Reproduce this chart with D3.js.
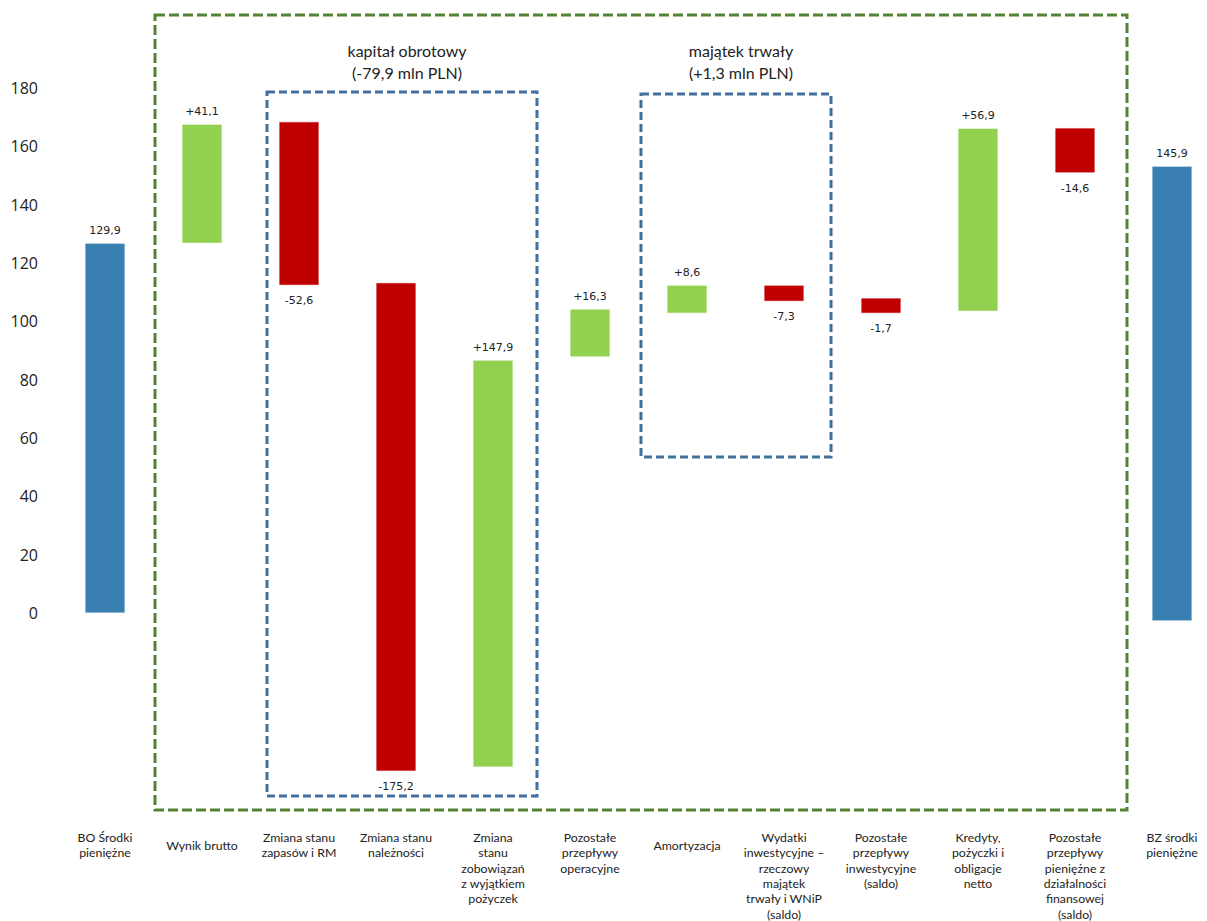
<!DOCTYPE html>
<html>
<head>
<meta charset="utf-8">
<script src="https://d3js.org/d3.v7.min.js"></script>
<style>
  body { margin: 0; background: #fff; }
  .tick text { font-family: "Open Sans", sans-serif; font-size: 16px; fill: #222; }
  .val { font-family: "DejaVu Sans", sans-serif; font-size: 11px; fill: #222; }
  .cat { font-family: Lato, sans-serif; font-size: 12.3px; fill: #222; }
  .grp { font-family: Lato, sans-serif; font-size: 16px; fill: #222; }
</style>
</head>
<body>
<div id="viz"></div>
<script>
// kategorie (linie etykiet osi X)
var categories = [
  ["BO Środki", "pieniężne"],
  ["Wynik brutto"],
  ["Zmiana stanu", "zapasów i RM"],
  ["Zmiana stanu", "należności"],
  ["Zmiana", "stanu", "zobowiązań", "z wyjątkiem", "pożyczek"],
  ["Pozostałe", "przepływy", "operacyjne"],
  ["Amortyzacja"],
  ["Wydatki", "inwestycyjne –", "rzeczowy", "majątek", "trwały i WNiP", "(saldo)"],
  ["Pozostałe", "przepływy", "inwestycyjne", "(saldo)"],
  ["Kredyty,", "pożyczki i", "obligacje", "netto"],
  ["Pozostałe", "przepływy", "pieniężne z", "działalności", "finansowej", "(saldo)"],
  ["BZ środki", "pieniężne"]
];
// poczatek i koniec slupka
var barStart = [0, 126.8, 168.4, 113.2, -52.8, 104.2, 102.8, 112.4, 108.0, 103.5, 166.3, -2.7];
var barEnd   = [126.8, 167.6, 112.4, -54.2, 86.7, 87.8, 112.4, 106.9, 102.8, 166.2, 150.9, 153.2];
var barType  = ["total", "up", "down", "down", "up", "up", "up", "down", "down", "up", "down", "total"];
var valueLabels = ["129,9", "+41,1", "-52,6", "-175,2", "+147,9", "+16,3", "+8,6", "-7,3", "-1,7", "+56,9", "-14,6", "145,9"];
var yTicks = [0, 20, 40, 60, 80, 100, 120, 140, 160, 180];
// grupy w ramkach
var groups = [
  { first: 2, last: 4, title: ["kapitał obrotowy", "(-79,9 mln PLN)"] },
  { first: 6, last: 7, title: ["majątek trwały", "(+1,3 mln PLN)"] }
];

var colors = { total: "#3a7fb2", up: "#92d050", down: "#c00000" };

var W = 1207, H = 921;
var svg = d3.select("#viz").append("svg")
  .attr("width", W).attr("height", H);

var y = d3.scaleLinear().domain([0, 180]).range([613, 88]);
var x = d3.scalePoint().domain(d3.range(categories.length)).range([105, 1172]);
var bw = 40;

// os Y - tylko etykiety
var yAxis = svg.append("g")
  .attr("transform", "translate(40,0)")
  .call(d3.axisLeft(y).tickValues(yTicks).tickSize(0).tickPadding(2));
yAxis.select(".domain").remove();
yAxis.selectAll(".tick text").attr("dy", "0.35em");

// zewnetrzna zielona ramka
svg.append("rect")
  .attr("x", x(1) - 47).attr("y", 15)
  .attr("width", (x(10) + 52) - (x(1) - 47)).attr("height", 810 - 15)
  .attr("fill", "none").attr("stroke", "#548235")
  .attr("stroke-width", 3).attr("stroke-dasharray", "10,4");

// niebieskie ramki grup
var boxY = [[92, 796], [94, 457]];
var boxPad = [[32, 44], [46, 47]];
groups.forEach(function(g, i) {
  var x0 = x(g.first) - boxPad[i][0], x1 = x(g.last) + boxPad[i][1];
  svg.append("rect")
    .attr("x", x0).attr("y", boxY[i][0])
    .attr("width", x1 - x0).attr("height", boxY[i][1] - boxY[i][0])
    .attr("fill", "none").attr("stroke", "#41719c")
    .attr("stroke-width", 3).attr("stroke-dasharray", "8,4");
  var cx = (x0 + x1) / 2 + 5;
  var t = svg.append("text").attr("class", "grp")
    .attr("text-anchor", "middle")
    .attr("x", cx).attr("y", 57);
  g.title.forEach(function(line, j) {
    t.append("tspan").attr("x", cx).attr("dy", j ? 22 : 0).text(line);
  });
});

// slupki
svg.selectAll("rect.bar")
  .data(d3.range(categories.length))
  .enter().append("rect")
  .attr("class", "bar")
  .attr("x", function(i) { return x(i) - bw / 2; })
  .attr("y", function(i) { return y(Math.max(barStart[i], barEnd[i])); })
  .attr("width", bw)
  .attr("height", function(i) { return Math.abs(y(barStart[i]) - y(barEnd[i])); })
  .attr("fill", function(i) { return colors[barType[i]]; })
  .attr("stroke", "#fff").attr("stroke-width", 0.8);

// etykiety wartosci
svg.selectAll("text.val")
  .data(d3.range(categories.length))
  .enter().append("text")
  .attr("class", "val")
  .attr("text-anchor", "middle")
  .attr("x", function(i) { return x(i); })
  .attr("y", function(i) {
    if (barType[i] == "down") return y(Math.min(barStart[i], barEnd[i])) + 19;
    return y(Math.max(barStart[i], barEnd[i])) - 9;
  })
  .text(function(i) { return valueLabels[i]; });

// etykiety kategorii
var lineH = 15.3;
categories.forEach(function(lines, i) {
  var t = svg.append("text").attr("class", "cat")
    .attr("text-anchor", "middle")
    .attr("x", x(i))
    .attr("y", lines.length == 1 ? 842 + lineH / 2 : 842);
  lines.forEach(function(line, j) {
    t.append("tspan").attr("x", x(i)).attr("dy", j ? lineH : 0).text(line);
  });
});
</script>
</body>
</html>
